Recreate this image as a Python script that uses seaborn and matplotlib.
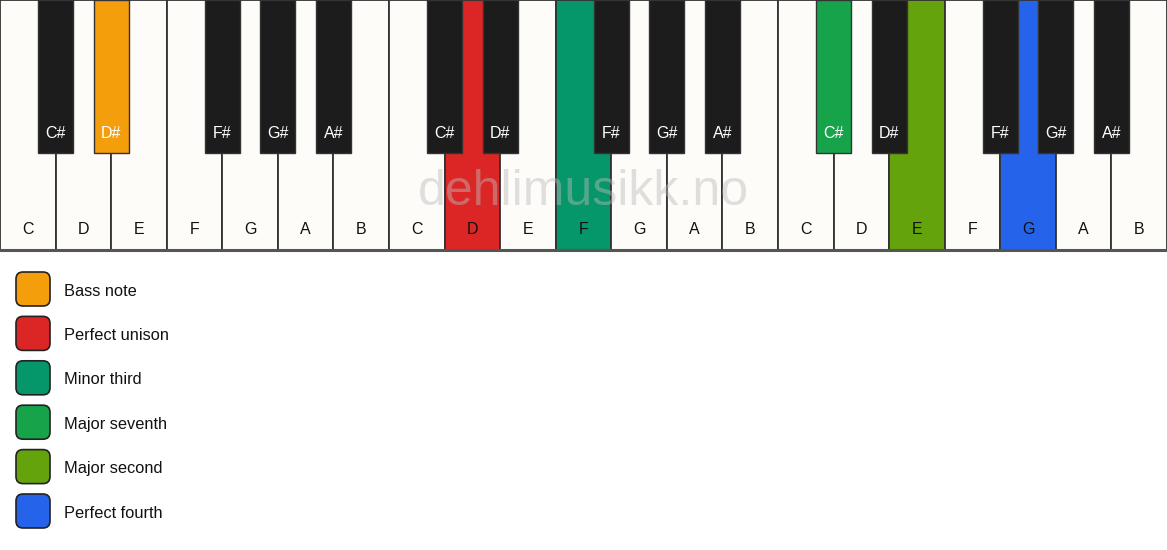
import matplotlib
matplotlib.use("Agg")
import matplotlib.pyplot as plt
from matplotlib.patches import FancyBboxPatch
import seaborn as sns

sns.set_theme(style="white")
plt.rcParams['font.family'] = ['Liberation Sans', 'DejaVu Sans']

# keyboard data: three octaves
white_names = ["C", "D", "E", "F", "G", "A", "B"] * 3
black_names = ["C#", "D#", "F#", "G#", "A#"] * 3
black_after = [0, 1, 3, 4, 5, 7, 8, 10, 11, 12, 14, 15, 17, 18, 19]  # white key index left of each black key
white_ids = [f"{n}{i // 7 + 1}" for i, n in enumerate(white_names)]
black_ids = [f"{n}{i // 5 + 1}" for i, n in enumerate(black_names)]

# highlighted keys
highlight = {
    "D#1": "#F59E0B",
    "D2": "#DC2626",
    "F2": "#059669",
    "C#3": "#16A34A",
    "E3": "#65A30D",
    "G3": "#2563EB",
}
legend_labels = ["Bass note", "Perfect unison", "Minor third", "Major seventh",
                 "Major second", "Perfect fourth"]
legend_colors = ["#F59E0B", "#DC2626", "#059669", "#16A34A", "#65A30D", "#2563EB"]

white_fill = "#FDFCF9"
black_fill = "#1C1C1C"
edge = "#333333"
white_len = 250
black_len = 153

fig = plt.figure(figsize=(11.67, 5.5), dpi=100)
fig.patch.set_facecolor("white")

# keyboard axes: x in white-key units, y in pixels (downwards)
ax = fig.add_axes([0, 0, 1, 1])
white_palette = {k: highlight.get(k, white_fill) for k in white_ids}
sns.barplot(x=white_ids, y=[white_len] * len(white_ids), hue=white_ids,
            palette=white_palette, width=1, edgecolor=edge, linewidth=1.3,
            saturation=1, legend=False, ax=ax)

black_x = [i + 0.5 for i in black_after]
black_colors = [highlight.get(k, black_fill) for k in black_ids]
ax.bar(black_x, [black_len] * len(black_x), width=0.63, color=black_colors,
       edgecolor=edge, linewidth=1.0, zorder=3)

for i, n in enumerate(white_names):
    ax.text(i, 230, n, ha="center", va="center", fontsize=11.5, color="#111111", zorder=5)
for x, n in zip(black_x, black_names):
    ax.text(x, 133, n, ha="center", va="center", fontsize=11.5, color="white", zorder=5)

ax.plot([-0.5, 20.5], [white_len, white_len], color="#555555", lw=2.2, zorder=4)
ax.set_xlim(-0.5, 20.5)
ax.set_ylim(550, 0)
ax.axis("off")

# overlay axes in pixel units for watermark and legend
ov = fig.add_axes([0, 0, 1, 1], facecolor="none")
ov.set_xlim(0, 1167)
ov.set_ylim(550, 0)
ov.axis("off")

ov.text(583, 192, "dehlimusikk.no", ha="center", va="center", fontsize=36,
        color="#BBBBBB", alpha=0.45, zorder=6)

for j, (lab, col) in enumerate(zip(legend_labels, legend_colors)):
    top = 272 + j * 44.4
    box = FancyBboxPatch((17, top + 1), 32, 32,
                         boxstyle="round,pad=1,rounding_size=7",
                         facecolor=col, edgecolor="#222222", linewidth=1.2)
    ov.add_patch(box)
    ov.text(64, top + 19, lab, ha="left", va="center", fontsize=11.8, color="#111111")

fig.savefig("out.png", dpi=100)
